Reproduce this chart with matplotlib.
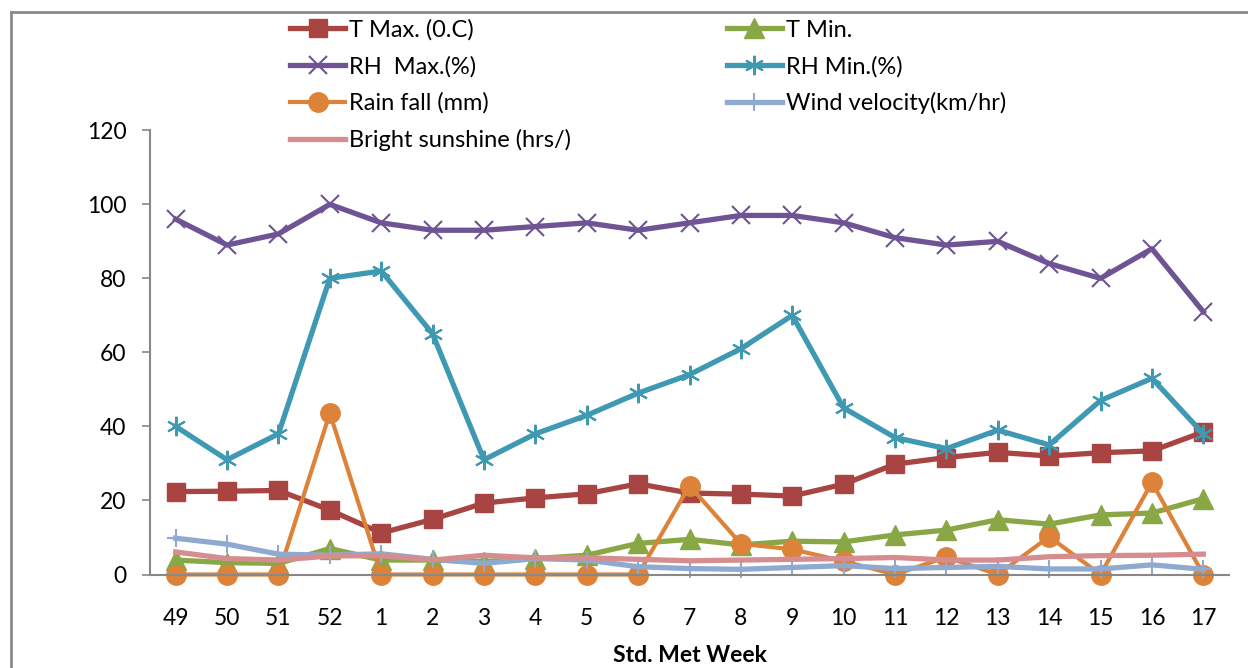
import matplotlib
matplotlib.use("Agg")
import matplotlib.pyplot as plt
from matplotlib.lines import Line2D

plt.rcParams['font.family'] = ['Lato', 'DejaVu Sans']

weeks = ["49", "50", "51", "52", "1", "2", "3", "4", "5", "6", "7",
         "8", "9", "10", "11", "12", "13", "14", "15", "16", "17"]

t_max = [22.4, 22.5, 22.7, 17.4, 11.2, 14.9, 19.3, 20.7, 21.8, 24.5, 22.0,
         21.7, 21.2, 24.4, 29.8, 31.6, 33.0, 32.0, 32.9, 33.4, 38.5]
t_min = [3.9, 3.2, 3.0, 7.0, 3.9, 3.9, 3.5, 4.3, 5.2, 8.4, 9.5,
         8.0, 9.0, 8.8, 10.7, 12.0, 14.8, 13.6, 16.1, 16.6, 20.5]
rh_max = [96, 89, 92, 100, 95, 93, 93, 94, 95, 93, 95,
          97, 97, 95, 91, 89, 90, 84, 80, 88, 71]
rh_min = [40, 31, 38, 80, 82, 65, 31, 38, 43, 49, 54,
          61, 70, 45, 37, 34, 39, 35, 47, 53, 38]
rain = [0, 0, 0, 43.6, 0, 0, 0, 0, 0, 0, 24.0,
        8.3, 6.8, 3.6, 0, 4.7, 0, 10.2, 0, 24.9, 0]
wind = [9.8, 8.2, 5.5, 5.2, 5.6, 4.1, 3.0, 4.3, 3.9, 2.1, 1.6,
        1.4, 1.9, 2.4, 1.6, 1.9, 2.2, 1.5, 1.5, 2.6, 1.4]
sunshine = [6.1, 4.3, 3.9, 5.0, 5.1, 3.9, 5.2, 4.5, 4.5, 4.1, 3.7,
            3.9, 4.1, 4.3, 4.6, 3.9, 3.9, 4.8, 5.1, 5.2, 5.5]

y_ticks = [0, 20, 40, 60, 80, 100, 120]

W, H = 1248, 668
fig = plt.figure(figsize=(W / 100, H / 100), dpi=100)
ax = fig.add_axes([150 / W, 1 - 574.5 / H, (1229 - 150) / W, (574.5 - 130.3) / H])

x = list(range(len(weeks)))

c_tmax = "#A84442"
c_tmin = "#8AA746"
c_rhmax = "#6E5494"
c_rhmin = "#3F99B3"
c_rain = "#DD8239"
c_wind = "#90A9D0"
c_sun = "#D68D8F"

h_tmax, = ax.plot(x, t_max, color=c_tmax, lw=3.8, marker="s", ms=13,
                  label="T Max. (0.C)")
h_tmin, = ax.plot(x, t_min, color=c_tmin, lw=3.8, marker="^", ms=14,
                  label="T Min.")
h_rhmax, = ax.plot(x, rh_max, color=c_rhmax, lw=3.8, marker="x", ms=13,
                   mew=1.5, label="RH  Max.(%)")
h_rhmin, = ax.plot(x, rh_min, color=c_rhmin, lw=3.8, marker=(6, 2, 0), ms=14,
                   mew=1.5, label="RH Min.(%)")
h_rain, = ax.plot(x, rain, color=c_rain, lw=3.0, marker="o", ms=14,
                  label="Rain fall (mm)")
h_wind, = ax.plot(x, wind, color=c_wind, lw=3.8, marker="+", ms=13,
                  mew=1.5, label="Wind velocity(km/hr)")
h_sun, = ax.plot(x, sunshine, color=c_sun, lw=3.8,
                 label="Bright sunshine (hrs/)")

ax.set_xlim(-0.5, len(weeks) - 0.5)
ax.set_ylim(0, 120)
ax.set_xticks(x)
ax.set_xticklabels(weeks)
ax.set_yticks(y_ticks)
ax.tick_params(axis="x", length=0, pad=24, labelsize=16.5)
ax.tick_params(axis="y", length=6, width=1.2, color="#888888", pad=11,
               labelsize=16.5)
for s in ["top", "right"]:
    ax.spines[s].set_visible(False)
for s in ["left", "bottom"]:
    ax.spines[s].set_color("#888888")
    ax.spines[s].set_linewidth(1.5)
for ln in ax.lines:
    ln.set_clip_on(False)

fig.text(689.5 / W, 1 - 655 / H, "Std. Met Week", fontsize=16.5,
         fontweight="bold", ha="center", va="center")

handles = [h_tmax, h_rhmax, h_rain, h_sun, h_tmin, h_rhmin, h_wind]
fig.legend(handles=handles, labels=[h.get_label() for h in handles],
           ncol=2, loc="upper left", bbox_to_anchor=(290 / W, 1 - 19 / H),
           frameon=False, fontsize=17, handlelength=2.33, handletextpad=0.17,
           labelspacing=0.64, columnspacing=6.6, numpoints=1,
           borderpad=0, borderaxespad=0)

# chart area border
fig.add_artist(Line2D([10.5 / W, 10.5 / W], [0, 1 - 11.5 / H],
                      transform=fig.transFigure, color="#8a8a8a", lw=2))
fig.add_artist(Line2D([10.5 / W, 1], [1 - 11.5 / H, 1 - 11.5 / H],
                      transform=fig.transFigure, color="#8a8a8a", lw=2))

fig.savefig("out.png", dpi=100)
